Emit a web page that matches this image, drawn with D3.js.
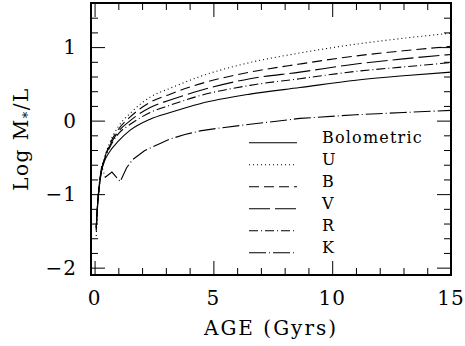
<!DOCTYPE html>
<html><head><meta charset="utf-8">
<script src="https://cdn.jsdelivr.net/npm/d3@7"></script>
<style>html,body{margin:0;padding:0;background:#fff;}svg{display:block;}</style>
</head><body>
<svg id="chart" width="465" height="346"></svg>
<script>
// ---- data ----
const ages = [0.07, 0.12, 0.2, 0.3, 0.42, 0.6, 1.0, 1.5, 2.34, 3.18, 4.44, 6.54, 8.64, 11, 13, 15];
const bolVals = [-1.45, -1.2, -0.9, -0.68, -0.55, -0.44, -0.28, -0.13, 0.02, 0.11, 0.23, 0.36, 0.45, 0.55, 0.61, 0.66];
const uVals   = [-1.57, -1.2, -0.88, -0.65, -0.5, -0.33, -0.08, 0.1, 0.32, 0.44, 0.6, 0.79, 0.92, 1.04, 1.12, 1.19];
const bVals   = [-1.5, -1.18, -0.88, -0.66, -0.51, -0.35, -0.12, 0.05, 0.25, 0.36, 0.5, 0.66, 0.77, 0.88, 0.95, 1.01];
const vVals   = [-1.48, -1.17, -0.88, -0.66, -0.52, -0.37, -0.15, 0.0, 0.18, 0.28, 0.41, 0.57, 0.66, 0.77, 0.84, 0.90];
const rVals   = [-1.46, -1.17, -0.88, -0.66, -0.53, -0.39, -0.18, -0.05, 0.11, 0.21, 0.34, 0.48, 0.57, 0.67, 0.73, 0.79];
const kAges   = [0.07, 0.12, 0.2, 0.3, 0.45, 0.73, 1.08, 1.35, 1.6, 2.1, 2.76, 3.18, 3.8, 4.44, 5.28, 6.54, 8.64, 11, 13, 15];
const kVals   = [-1.45, -1.15, -0.85, -0.62, -0.77, -0.70, -0.83, -0.64, -0.53, -0.41, -0.31, -0.25, -0.19, -0.14, -0.10, -0.05, 0.03, 0.08, 0.11, 0.14];
const seriesNames = ["Bolometric", "U", "B", "V", "R", "K"];
const xTickLabels = [0, 5, 10, 15];
const yTickLabels = [-2, -1, 0, 1];

// ---- styles ----
const dashes = {
  "Bolometric": null,
  "U": "1,3",
  "B": "10,5",
  "V": "21,5",
  "R": "9,3,1,3",
  "K": "17,3,1,3"
};
const seriesData = [
  {name: "Bolometric", x: ages, y: bolVals, curve: d3.curveMonotoneX},
  {name: "U", x: ages, y: uVals, curve: d3.curveMonotoneX},
  {name: "B", x: ages, y: bVals, curve: d3.curveMonotoneX},
  {name: "V", x: ages, y: vVals, curve: d3.curveMonotoneX},
  {name: "R", x: ages, y: rVals, curve: d3.curveMonotoneX},
  {name: "K", x: kAges, y: kVals, curve: d3.curveLinear}
];

const W = 465, H = 346;
const m = {left: 91, right: 14, top: 3, bottom: 71};
const svg = d3.select("#chart");
const x = d3.scaleLinear().domain([-0.15, 15]).range([m.left, W - m.right]);
const y = d3.scaleLinear().domain([-2.1, 1.6]).range([H - m.bottom, m.top]);
const FONT = "DejaVu Serif";

const g = svg.append("g");
svg.append("defs").append("clipPath").attr("id","clip").append("rect")
  .attr("x", m.left).attr("y", m.top).attr("width", W - m.left - m.right).attr("height", H - m.top - m.bottom);

const curves = g.append("g").attr("clip-path", "url(#clip)");
seriesData.forEach(s => {
  const pts = s.x.map((a, i) => [a, s.y[i]]);
  const line = d3.line().x(d => x(d[0])).y(d => y(d[1])).curve(s.curve);
  curves.append("path").attr("d", line(pts))
    .attr("fill", "none").attr("stroke", "#000").attr("stroke-width", 1.1)
    .attr("stroke-dasharray", dashes[s.name]);
});

// axes with inward ticks on all four sides
const xMajor = xTickLabels;
const xMinor = d3.range(0, 16, 1).filter(v => !xMajor.includes(v));
const yMajor = yTickLabels;
const yMinor = d3.range(-2, 1.61, 0.2).map(v => Math.round(v * 10) / 10).filter(v => !yMajor.includes(v));
const innerH = H - m.top - m.bottom, innerW = W - m.left - m.right;

function mk(axisFn, scale, vals, size) {
  return axisFn(scale).tickValues(vals).tickSize(size).tickFormat("");
}
const axG = g.append("g");
axG.append("g").attr("transform", `translate(0,${H - m.bottom})`).call(mk(d3.axisTop, x, xMajor, 14));
axG.append("g").attr("transform", `translate(0,${H - m.bottom})`).call(mk(d3.axisTop, x, xMinor, 7));
axG.append("g").attr("transform", `translate(0,${m.top})`).call(mk(d3.axisBottom, x, xMajor, 14));
axG.append("g").attr("transform", `translate(0,${m.top})`).call(mk(d3.axisBottom, x, xMinor, 7));
axG.append("g").attr("transform", `translate(${m.left},0)`).call(mk(d3.axisRight, y, yMajor, 14));
axG.append("g").attr("transform", `translate(${m.left},0)`).call(mk(d3.axisRight, y, yMinor, 7));
axG.append("g").attr("transform", `translate(${W - m.right},0)`).call(mk(d3.axisLeft, y, yMajor, 14));
axG.append("g").attr("transform", `translate(${W - m.right},0)`).call(mk(d3.axisLeft, y, yMinor, 7));
axG.selectAll(".domain").remove();
axG.selectAll(".tick line").attr("stroke", "#000").attr("stroke-width", 1);

// frame
g.append("rect").attr("x", m.left).attr("y", m.top).attr("width", innerW).attr("height", innerH)
  .attr("fill", "none").attr("stroke", "#000").attr("stroke-width", 2);

// tick labels
g.selectAll(".xl").data(xTickLabels).enter().append("text")
  .attr("x", d => x(d)).attr("y", 305).attr("text-anchor", "middle")
  .attr("font-family", FONT).attr("font-size", 20).attr("letter-spacing", 1)
  .text(d => d);
g.selectAll(".yl").data(yTickLabels).enter().append("text")
  .attr("x", 77).attr("y", d => y(d) + 7).attr("text-anchor", "end")
  .attr("font-family", FONT).attr("font-size", 20).attr("letter-spacing", 1)
  .text(d => d < 0 ? "\u2212" + Math.abs(d) : d);

// axis titles
g.append("text").attr("x", (m.left + W - m.right) / 2).attr("y", 335).attr("text-anchor", "middle")
  .attr("font-family", FONT).attr("font-size", 20).attr("letter-spacing", 2).text("AGE (Gyrs)");
const yt = g.append("text").attr("transform", `translate(28,${(m.top + H - m.bottom) / 2}) rotate(-90)`)
  .attr("text-anchor", "middle").attr("font-family", FONT).attr("font-size", 20).attr("letter-spacing", 1.5);
yt.append("tspan").text("Log M");
yt.append("tspan").attr("font-size", 13).attr("dy", 4).text("*");
yt.append("tspan").attr("dy", -4).text("/L");

// legend
const leg = g.append("g");
seriesNames.forEach((n, i) => {
  const by = 142.7 + 22 * i;
  leg.append("line").attr("x1", 249).attr("x2", 297).attr("y1", by).attr("y2", by)
    .attr("stroke", "#000").attr("stroke-width", 1.1).attr("stroke-dasharray", dashes[n]);
  leg.append("text").attr("x", 322).attr("y", by).attr("font-family", FONT).attr("font-size", 16)
    .attr("letter-spacing", 1.2).text(n);
});
</script>
</body></html>
